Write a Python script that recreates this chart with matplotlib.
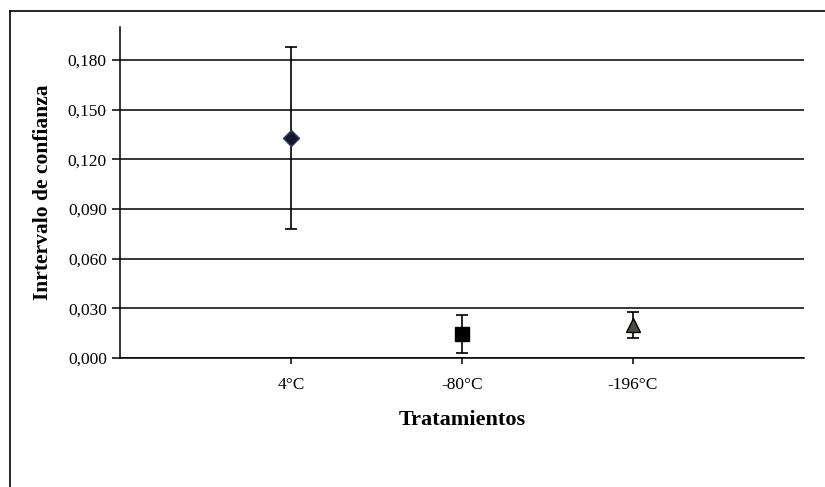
import matplotlib as mpl
import matplotlib.pyplot as plt
from matplotlib.lines import Line2D

mpl.use("Agg")
plt.rcParams['font.family'] = ['Liberation Serif', 'DejaVu Serif']

# data
tratamientos = ["4°C", "-80°C", "-196°C"]
medias = [0.133, 0.0145, 0.020]
errores = [0.055, 0.0115, 0.008]
marcadores = ["D", "s", "^"]
colores = ["#15152e", "#000000", "#4a4b42"]
bordes = ["#3a3a66", "#000000", "#000000"]
tamanos = [8.5, 9.5, 10]
yticks = [0.0, 0.03, 0.06, 0.09, 0.12, 0.15, 0.18]

W, H = 825, 487
fig = plt.figure(figsize=(W / 100, H / 100), dpi=100)
ax = fig.add_axes([120 / W, 1 - 358 / H, (804 - 120) / W, (358 - 27) / H])

x = list(range(1, len(tratamientos) + 1))
for xi, m, e, mk, c, ec, s in zip(x, medias, errores, marcadores, colores, bordes, tamanos):
    ax.errorbar(xi, m, yerr=e, fmt="none", ecolor="black", elinewidth=1.2,
                capsize=4.5, capthick=1.2, zorder=3)
    ax.plot(xi, m, marker=mk, color=c, markeredgecolor=ec, markersize=s,
            markeredgewidth=1, linestyle="none", zorder=4)

ax.set_xlim(0, 4)
ax.set_ylim(0, 0.2)
ax.set_xticks(x)
ax.set_xticklabels(tratamientos, fontsize=12.5)
ax.set_yticks(yticks)
ax.set_yticklabels([f"{v:.3f}".replace(".", ",") for v in yticks], fontsize=12.5)
ax.grid(True, axis="y", color="black", linewidth=1.1)
ax.set_axisbelow(True)
ax.spines["top"].set_visible(False)
ax.spines["right"].set_visible(False)
ax.spines["left"].set_linewidth(1.1)
ax.spines["bottom"].set_linewidth(1.1)
ax.tick_params(axis="y", direction="out", length=5.5, width=1.1, pad=4)
ax.tick_params(axis="x", direction="out", length=4, width=1.1, pad=10)

ax.set_ylabel("Inrtervalo de confianza", fontsize=15.5, fontweight="bold", va="center")
ax.set_xlabel("Tratamientos", fontsize=16, fontweight="bold", va="center")
ax.yaxis.set_label_coords((43 - 120) / 684, 0.5)
ax.xaxis.set_label_coords(0.5, (358 - 420) / 331)

# outer border (left and top edges visible)
fig.add_artist(Line2D([10 / W, 10 / W], [0, 1 - 11 / H], transform=fig.transFigure,
                      color="black", linewidth=1.2))
fig.add_artist(Line2D([10 / W, 1], [1 - 11 / H, 1 - 11 / H], transform=fig.transFigure,
                      color="black", linewidth=1.2))

fig.savefig("out.png", dpi=100)
plt.close()
